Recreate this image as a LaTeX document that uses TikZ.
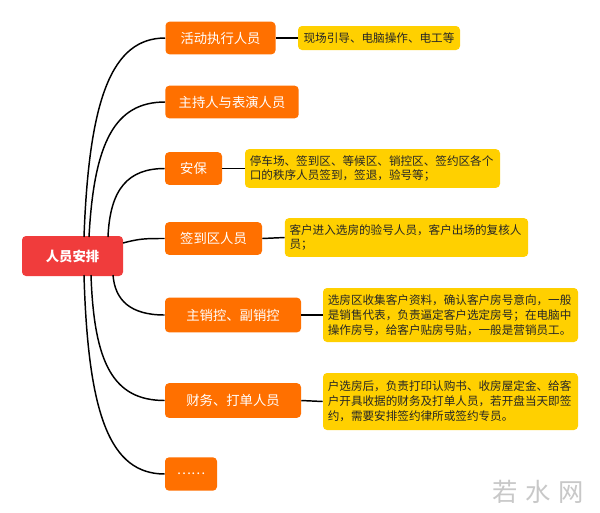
\documentclass[tikz,border=0pt]{standalone}
\usepackage{fontspec}
\setmainfont{Noto Sans CJK SC}
\newfontfamily\cjk{Noto Sans CJK SC}
\definecolor{orangebox}{RGB}{255,112,0}
\definecolor{rootred}{RGB}{240,60,60}
\definecolor{yellowbox}{RGB}{255,208,0}
\definecolor{wmgray}{RGB}{200,200,200}
\tikzset{
  rootbox/.style={fill=rootred, rounded corners=3pt, text=white, font=\cjk\fontsize{10}{12}\selectfont\bfseries, inner sep=0pt},
  orangebox/.style={fill=orangebox, rounded corners=3pt, text=white, font=\cjk\fontsize{10}{12}\selectfont, inner sep=0pt, minimum height=24.5pt},
  notebox/.style={fill=yellowbox, rounded corners=3pt, text=black!85, font=\cjk\fontsize{8.7}{11.2}\selectfont, align=left, inner xsep=3.5pt, inner ysep=2pt},
  link/.style={black, line width=1.1pt},
}
\begin{document}
\begin{tikzpicture}[x=0.75pt, y=-0.75pt]
\useasboundingbox (0,0) rectangle (600,512);
\fill[white] (0,0) rectangle (600,512);
% root
\node[rootbox, minimum width=75.75pt, minimum height=30pt] (root) at (72.5,256) {人员安排};
% orange nodes
\node[orangebox, minimum width=82.5pt] (n1) at (220.5,38) {活动执行人员};
\node[orangebox, minimum width=100pt] (n2) at (232,102) {主持人与表演人员};
\node[orangebox, minimum width=42.75pt] (n3) at (193.5,168.5) {安保};
\node[orangebox, minimum width=72.75pt] (n4) at (213.5,238.5) {签到区人员};
\node[orangebox, minimum width=102pt, minimum height=26pt] (n5) at (233,315) {主销控、副销控};
\node[orangebox, minimum width=102pt, minimum height=26pt] (n6) at (233,400.5) {财务、打单人员};
\node[orangebox, minimum width=39pt, minimum height=25pt] (n7) at (191,474) {……};
% yellow notes
\node[notebox, minimum width=121.5pt, minimum height=18pt] (y1) at (379,38) {现场引导、电脑操作、电工等};
\node[notebox, minimum width=191.25pt, minimum height=29pt, text width=184pt] (y2) at (372.5,168.5) {停车场、签到区、等候区、销控区、签约区各个\\口的秩序人员签到，签退，验号等；};
\node[notebox, minimum width=182.25pt, minimum height=29pt, text width=175.5pt] (y3) at (406.5,237.5) {客户进入选房的验号人员，客户出场的复核人\\员；};
\node[notebox, minimum width=191.25pt, minimum height=40.5pt, text width=184pt] (y4) at (450.5,315) {选房区收集客户资料，确认客户房号意向，一般\\是销售代表，负责逼定客户选定房号；在电脑中\\操作房号，给客户贴房号贴，一般是营销员工。};
\node[notebox, minimum width=191.25pt, minimum height=42.75pt, text width=184pt] (y5) at (450.5,401.5) {户选房后，负责打印认购书、收房屋定金、给客\\户开具收据的财务及打单人员，若开盘当天即签\\约，需要安排签约律所或签约专员。};
% connectors root -> orange
\coordinate (s1) at (84,237);
\coordinate (s2) at (89,237);
\coordinate (s3) at (108,237);
\coordinate (s4) at (123,243);
\coordinate (s5) at (113,275);
\coordinate (s6) at (91,275);
\coordinate (s7) at (84,275);
\draw[link] (s1) .. controls (89,98) and (112,38) .. (n1.west);
\draw[link] (s2) .. controls (94,142) and (115,102) .. (n2.west);
\draw[link] (s3) .. controls (110,189) and (128,168.5) .. (n3.west);
\draw[link] (s4) .. controls (140,238.5) and (145,238.5) .. (n4.west);
\draw[link] (s5) .. controls (115,300) and (130,315) .. (n5.west);
\draw[link] (s6) .. controls (94,363) and (113,400.5) .. (n6.west);
\draw[link] (s7) .. controls (88,415) and (110,474) .. (n7.west);
% orange -> yellow
\draw[link] (n1.east) -- (y1.west);
\draw[link] (n3.east) -- (y2.west);
\draw[link] (n4.east) -- (y3.west);
\draw[link] (n5.east) -- (y4.west);
\draw[link] (n6.east) -- (y5.west);
% watermark
\node[text=wmgray, font=\cjk\fontsize{19}{22}\selectfont] (wm) at (538,492) {若\hspace{6pt}水\hspace{6pt}网};
\end{tikzpicture}
\end{document}
